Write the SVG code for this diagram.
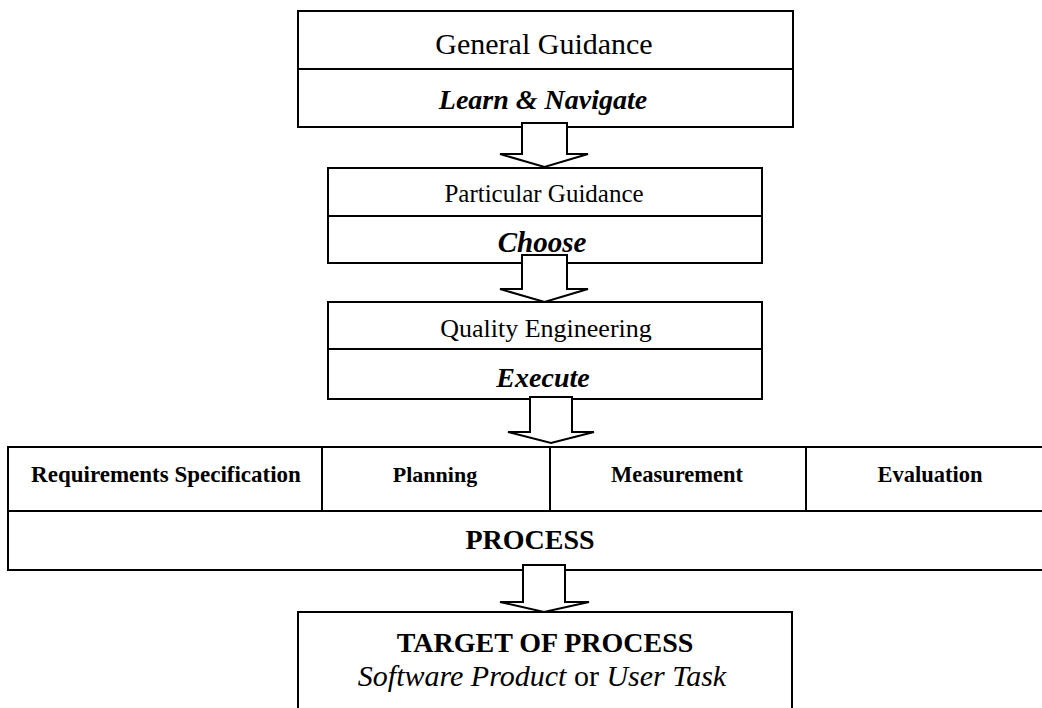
<svg xmlns="http://www.w3.org/2000/svg" width="1042" height="708" viewBox="0 0 1042 708">
<style>
.box{fill:#fff;stroke:#000;stroke-width:2}
.ln{stroke:#000;stroke-width:2;fill:none}
.arr{fill:#fff;stroke:#000;stroke-width:2;stroke-linejoin:miter}
text{font-family:"Liberation Serif","Times New Roman",serif;fill:#000;text-anchor:middle}
.b{font-weight:bold}
.bi{font-weight:bold;font-style:italic}
.i{font-style:italic}
</style>
<rect width="1042" height="708" fill="#fff"/>
<g id="general">
<rect class="box" x="298" y="11" width="495" height="116"/>
<line class="ln" x1="298" y1="69" x2="793" y2="69"/>
<text x="544" y="54" font-size="30">General Guidance</text>
<text class="bi" x="543" y="109" font-size="28">Learn &amp; Navigate</text>
</g>
<g id="particular">
<rect class="box" x="328" y="168" width="434" height="95"/>
<line class="ln" x1="328" y1="216" x2="762" y2="216"/>
<text x="544" y="202" font-size="25">Particular Guidance</text>
<text class="bi" x="542" y="252" font-size="29">Choose</text>
</g>
<g id="quality">
<rect class="box" x="328" y="302" width="434" height="97"/>
<line class="ln" x1="328" y1="349" x2="762" y2="349"/>
<text x="546" y="337" font-size="26">Quality Engineering</text>
<text class="bi" x="543" y="387" font-size="28">Execute</text>
</g>
<g id="process">
<rect class="box" x="8" y="447" width="1044" height="123"/>
<line class="ln" x1="8" y1="511" x2="1052" y2="511"/>
<line class="ln" x1="322" y1="447" x2="322" y2="511"/>
<line class="ln" x1="550" y1="447" x2="550" y2="511"/>
<line class="ln" x1="806" y1="447" x2="806" y2="511"/>
<text class="b" x="166" y="482" font-size="23">Requirements Specification</text>
<text class="b" x="435" y="482" font-size="22">Planning</text>
<text class="b" x="677" y="482" font-size="22.5">Measurement</text>
<text class="b" x="930" y="482" font-size="22.5">Evaluation</text>
<text class="b" x="530" y="549" font-size="28">PROCESS</text>
</g>
<g id="target">
<rect class="box" x="298" y="612" width="494" height="110"/>
<text class="b" x="545" y="652" font-size="28">TARGET OF PROCESS</text>
<text x="542" y="686" font-size="30"><tspan class="i">Software Product</tspan> or <tspan class="i">User Task</tspan></text>
</g>
<g id="connectors">
<polygon class="arr" points="522,123 567,123 567,154 588,154 544.5,167 500,154 522,154"/>
<polygon class="arr" points="522,255 567,255 567,289 588,289 544.5,302 500,289 522,289"/>
<polygon class="arr" points="530,397 572,397 572,432 594,432 551,443 508,432 530,432"/>
<polygon class="arr" points="523,565 565,565 565,602 589,602 544,612 500,602 523,602"/>
</g>
</svg>
